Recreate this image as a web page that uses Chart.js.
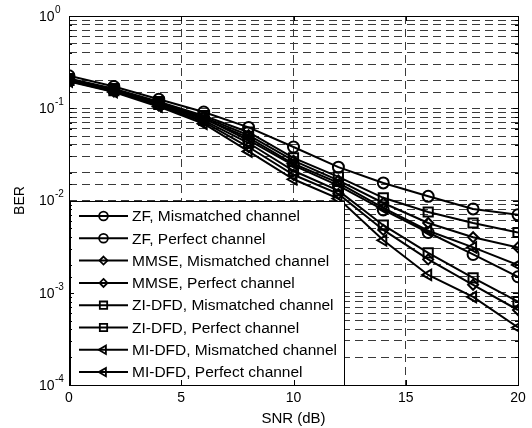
<!DOCTYPE html>
<html>
<head>
<meta charset="utf-8">
<script src="https://cdn.jsdelivr.net/npm/chart.js@4/dist/chart.umd.min.js"></script>
<style>
  html, body { margin: 0; padding: 0; background: #fff; }
  canvas { display: block; }
</style>
</head>
<body>
<canvas id="ber_chart" width="532" height="428"></canvas>
<script>
// SNR points (dB)
const snrValues = [0, 2, 4, 6, 8, 10, 12, 14, 16, 18, 20];

// BER curves
const zfMismatched   = [0.225, 0.172, 0.125, 0.091, 0.062, 0.038, 0.023, 0.0155, 0.0111, 0.0081, 0.0070];
const zfPerfect      = [0.205, 0.158, 0.113, 0.078, 0.045, 0.024, 0.0145, 0.0079, 0.0045, 0.0026, 0.00149];
const mmseMismatched = [0.205, 0.160, 0.115, 0.080, 0.051, 0.027, 0.0165, 0.0094, 0.0057, 0.0040, 0.0031];
const mmsePerfect    = [0.198, 0.152, 0.107, 0.071, 0.038, 0.019, 0.0118, 0.0048, 0.0023, 0.00122, 0.00065];
const ziMismatched   = [0.210, 0.163, 0.118, 0.083, 0.055, 0.029, 0.018, 0.0107, 0.0075, 0.0057, 0.0045];
const ziPerfect      = [0.200, 0.155, 0.110, 0.074, 0.042, 0.021, 0.0128, 0.0054, 0.0027, 0.00145, 0.0008];
const miMismatched   = [0.200, 0.157, 0.112, 0.077, 0.048, 0.025, 0.0155, 0.0083, 0.0047, 0.0031, 0.0020];
const miPerfect      = [0.195, 0.150, 0.104, 0.068, 0.034, 0.017, 0.0105, 0.0037, 0.00156, 0.0009, 0.00042];

const seriesLabels = [
    'ZF, Mismatched channel', 'ZF, Perfect channel',
    'MMSE, Mismatched channel', 'MMSE, Perfect channel',
    'ZI-DFD, Mismatched channel', 'ZI-DFD, Perfect channel',
    'MI-DFD, Mismatched channel', 'MI-DFD, Perfect channel'
];
const seriesData = [zfMismatched, zfPerfect, mmseMismatched, mmsePerfect,
                    ziMismatched, ziPerfect, miMismatched, miPerfect];
const yTickExponents = [0, -1, -2, -3, -4];

const FONT = '"Liberation Sans", Arial, Helvetica, sans-serif';

// marker style for each method
function markerFor(i) {
    const kind = Math.floor(i / 2);
    if (kind === 0) return { style: 'circle', radius: 5.5, rotation: 0 };
    if (kind === 1) return { style: 'rectRot', radius: 5, rotation: 0 };
    if (kind === 2) return { style: 'rect', radius: 6.5, rotation: 0 };
    return { style: 'triangle', radius: 6, rotation: -90 };
}

function drawMarker(ctx, style, r, x, y) {
    ctx.beginPath();
    if (style === 'circle') {
        ctx.arc(x, y, r, 0, Math.PI * 2);
    } else if (style === 'rect') {
        const s = r * Math.SQRT1_2;
        ctx.rect(x - s, y - s, 2 * s, 2 * s);
    } else if (style === 'rectRot') {
        ctx.moveTo(x, y - r); ctx.lineTo(x + r, y); ctx.lineTo(x, y + r); ctx.lineTo(x - r, y); ctx.closePath();
    } else {
        // triangle pointing left
        ctx.moveTo(x - r, y);
        ctx.lineTo(x + r * 0.5, y - r * 0.866);
        ctx.lineTo(x + r * 0.5, y + r * 0.866);
        ctx.closePath();
    }
    ctx.stroke();
}

const matlabLook = {
    id: 'matlabLook',
    afterDraw(chart) {
        const ctx = chart.ctx;
        const area = chart.chartArea;
        const xs = chart.scales.x, ys = chart.scales.y;
        ctx.save();

        // legend box inside the axes
        const lx = 70, ly = 201, lw = 274, lh = 184;
        ctx.fillStyle = '#fff';
        ctx.fillRect(lx, ly, lw, lh);
        ctx.strokeStyle = '#000';
        ctx.lineWidth = 1;
        ctx.strokeRect(lx + 0.5, ly + 0.5, lw, lh);
        ctx.font = '15.5px ' + FONT;
        ctx.textBaseline = 'middle';
        ctx.fillStyle = '#000';
        seriesLabels.forEach(function (label, i) {
            const rowY = 216 + i * 22.3;
            ctx.strokeStyle = '#000';
            ctx.lineWidth = 2;
            ctx.beginPath();
            ctx.moveTo(79, rowY);
            ctx.lineTo(128, rowY);
            ctx.stroke();
            const m = markerFor(i);
            ctx.lineWidth = 1.8;
            drawMarker(ctx, m.style, m.radius * 0.8, 103.5, rowY);
            ctx.fillText(label, 132, rowY + 1);
        });

        // axes box
        ctx.strokeStyle = '#000';
        ctx.lineWidth = 1;
        ctx.strokeRect(Math.round(area.left) + 0.5, Math.round(area.top) + 0.5,
                       Math.round(area.right - area.left), Math.round(area.bottom - area.top));

        // inward tick marks
        ctx.beginPath();
        ys.ticks.forEach(function (t) {
            const py = Math.round(ys.getPixelForValue(t.value)) + 0.5;
            const len = t.major ? 5 : 3;
            ctx.moveTo(area.left, py); ctx.lineTo(area.left + len, py);
            ctx.moveTo(area.right, py); ctx.lineTo(area.right - len, py);
        });
        xs.ticks.forEach(function (t) {
            const px = Math.round(xs.getPixelForValue(t.value)) + 0.5;
            ctx.moveTo(px, area.bottom); ctx.lineTo(px, area.bottom - 5);
            ctx.moveTo(px, area.top); ctx.lineTo(px, area.top + 5);
        });
        ctx.stroke();

        // y tick labels as 10 with superscript exponent
        ctx.fillStyle = '#000';
        ctx.textBaseline = 'middle';
        ctx.textAlign = 'left';
        yTickExponents.forEach(function (e) {
            const py = ys.getPixelForValue(Math.pow(10, e));
            ctx.font = '14px ' + FONT;
            ctx.fillText('10', 39, py + 1);
            ctx.font = '10px ' + FONT;
            ctx.fillText(String(e), 55, py - 6);
        });
        ctx.restore();
    }
};

const ctx1 = document.getElementById('ber_chart').getContext('2d');
const chart1 = new Chart(ctx1, {
    type: 'line',
    data: {
        datasets: seriesData.map(function (vals, i) {
            const m = markerFor(i);
            return {
                label: seriesLabels[i],
                data: snrValues.map((s, k) => ({ x: s, y: vals[k] })),
                borderColor: '#000',
                borderWidth: 2,
                backgroundColor: 'rgba(0,0,0,0)',
                pointStyle: m.style,
                pointRadius: m.radius,
                pointRotation: m.rotation,
                pointBorderWidth: 2,
                pointBorderColor: '#000',
                pointBackgroundColor: 'rgba(0,0,0,0)',
                tension: 0
            };
        })
    },
    options: {
        responsive: false,
        animation: false,
        layout: { padding: { top: 16, right: 14, left: 0, bottom: 0 } },
        plugins: {
            legend: { display: false },
            tooltip: { enabled: false }
        },
        scales: {
            x: {
                type: 'linear',
                min: 0, max: 20,
                ticks: { stepSize: 5, color: '#000', padding: 5, font: { size: 14, family: FONT } },
                grid: { color: '#3a3a3a', lineWidth: 1, drawTicks: false },
                border: { display: false, dash: [8, 5] },
                title: { display: true, text: 'SNR (dB)', color: '#000', font: { size: 15, family: FONT }, padding: 0 },
                afterFit: function (scale) { scale.height = 43; }
            },
            y: {
                type: 'logarithmic',
                min: 1e-4, max: 1,
                ticks: { display: false, autoSkip: false },
                grid: { color: '#3a3a3a', lineWidth: 1, drawTicks: false },
                border: { display: false, dash: [8, 5] },
                title: { display: true, text: 'BER', color: '#000', font: { size: 14, family: FONT }, padding: { top: 12 } },
                afterFit: function (scale) { scale.width = 69; }
            }
        }
    },
    plugins: [matlabLook]
});
</script>
</body>
</html>
